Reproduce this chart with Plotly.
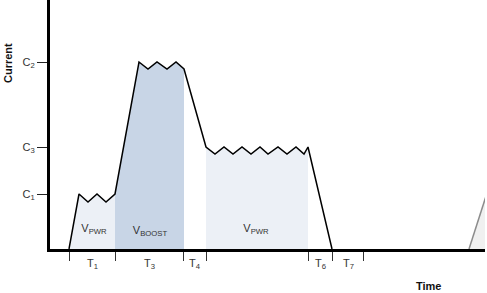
import plotly.graph_objects as go

# Waveform (time, current)
t = [19, 29, 38, 47, 56, 65, 89, 98, 107, 117, 126, 134, 156, 165, 174, 183,
     192, 201, 210, 218, 228, 237, 246, 254, 258, 282]
cur = [0, 55, 47, 55, 47, 55, 187, 180, 187, 180, 187, 180, 102, 95, 102, 95,
       102, 95, 102, 95, 102, 95, 102, 95, 102, 0]

# next cycle start (grey)
t2 = [419, 437]
cur2 = [0, 56]

# levels
c_vals = [55, 102, 187]
c_text = ["C<sub>1</sub>", "C<sub>3</sub>", "C<sub>2</sub>"]

# phase boundaries and labels
bounds = [19, 65, 133, 156, 258, 282, 313]
t_lab_pos = [42, 99, 145, 270, 298]
t_lab = ["T<sub>1</sub>", "T<sub>3</sub>", "T<sub>4</sub>", "T<sub>6</sub>", "T<sub>7</sub>"]

# region labels
v_pos_t = [44, 100, 206]
v_pos_c = [20, 18, 20]
v_lab = ["V<sub>PWR</sub>", "V<sub>BOOST</sub>", "V<sub>PWR</sub>"]

LIGHT = "#ecf0f6"
DARK = "#c8d5e6"
FONT = "Liberation Sans, Arial"

fig = go.Figure()

def seg(a, b):
    i0 = t.index(a); i1 = t.index(b)
    return t[i0:i1 + 1], cur[i0:i1 + 1]

for (a, b, col) in [(19, 65, LIGHT), (65, 134, DARK), (156, 258, LIGHT)]:
    xs, ys = seg(a, b)
    fig.add_trace(go.Scatter(x=xs, y=ys, mode="lines", line=dict(width=0),
                             fill="tozeroy", fillcolor=col, hoverinfo="skip"))

fig.add_trace(go.Scatter(x=t2, y=cur2, mode="lines", line=dict(width=0),
                         fill="tozeroy", fillcolor="#f0f0f0", hoverinfo="skip"))
fig.add_trace(go.Scatter(x=t2, y=cur2, mode="lines",
                         line=dict(color="#8c8c8c", width=1.5)))
fig.add_trace(go.Scatter(x=t, y=cur, mode="lines",
                         line=dict(color="black", width=1.5)))

fig.add_trace(go.Scatter(x=v_pos_t, y=v_pos_c, mode="text", text=v_lab,
                         textfont=dict(size=11, color="#333333", family=FONT)))

# phase labels below the time axis
for xp, lab in zip(t_lab_pos, t_lab):
    fig.add_annotation(text=lab, xref="x", yref="paper", x=xp, y=-0.06,
                       xanchor="center", yanchor="middle", showarrow=False,
                       font=dict(size=11, color="#333333", family=FONT))

fig.add_annotation(text="<b>Time</b>", xref="x", yref="paper", x=378, y=-0.149,
                   xanchor="center", yanchor="middle",
                   showarrow=False, font=dict(size=11, color="#111", family=FONT))
fig.add_annotation(text="<b>Current</b>", xref="paper", yref="paper", x=-0.0966,
                   y=0.747, textangle=-90, xanchor="center", yanchor="middle",
                   showarrow=False, font=dict(size=11, color="#111", family=FONT))

fig.update_layout(
    width=487, height=293, margin=dict(l=50, r=2, t=0, b=44),
    paper_bgcolor="white", plot_bgcolor="white", showlegend=False,
    font=dict(family=FONT, size=11, color="#333333"),
    xaxis=dict(range=[0, 435], showgrid=False, zeroline=False, showline=True,
               linecolor="black", linewidth=3, tickmode="array",
               tickvals=bounds, showticklabels=False, ticks="outside",
               ticklen=9, tickcolor="#333333", tickwidth=1),
    yaxis=dict(range=[0, 249], showgrid=False, zeroline=False, showline=True,
               linecolor="black", linewidth=3, tickmode="array",
               tickvals=c_vals, ticktext=c_text, ticks="outside", ticklen=10,
               tickcolor="#222222", tickwidth=1,
               tickfont=dict(size=11, color="#333333", family=FONT)),
)

fig.write_html("out.html")
